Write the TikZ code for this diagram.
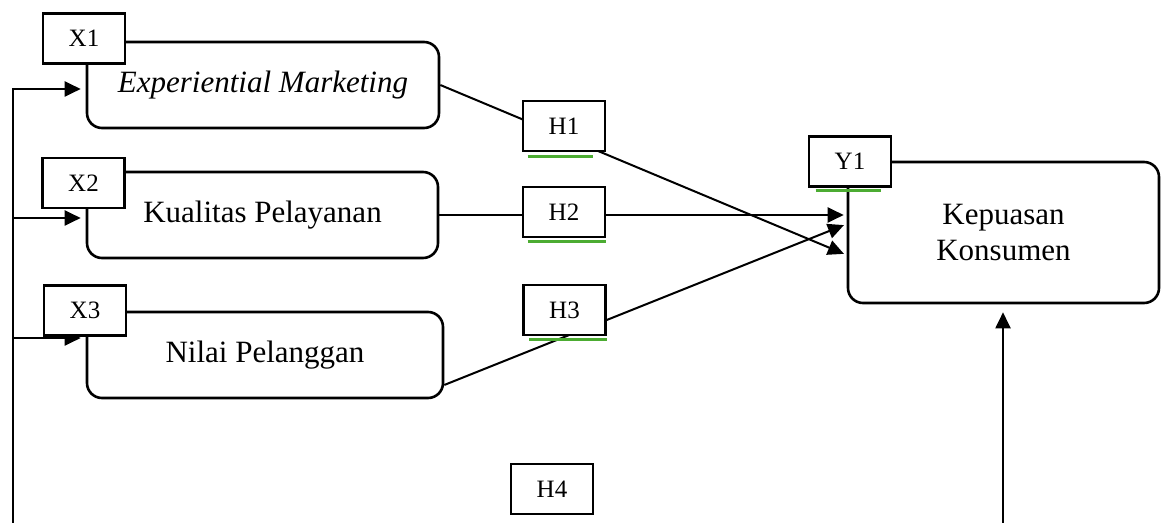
\documentclass[tikz,border=0pt]{standalone}
\usepackage{fontspec}
\setmainfont{Liberation Serif}
\usetikzlibrary{arrows.meta}
\pgfdeclarelayer{background}
\pgfsetlayers{background,main}
\definecolor{okgreen}{RGB}{76,172,50}
\tikzset{
  var/.style = {draw, line width=1.3pt, rounded corners=7.5pt, minimum width=#1,
    minimum height=43pt, inner sep=0pt, font=\fontsize{15.5}{18}\selectfont},
  tag/.style = {draw, line width=1.3pt, fill=white, minimum width=41pt,
    minimum height=25pt, inner sep=0pt, font=\fontsize{12.5}{14}\selectfont},
  link/.style = {line width=1pt},
  arr/.style = {line width=1pt, -{Triangle[length=8pt,width=7.5pt]}},
  ok/.style = {line width=1.6pt, okgreen}
}

\begin{document}
\begin{tikzpicture}[x=0.5pt, y=-0.5pt]
  \useasboundingbox (0,0) rectangle (1161,523);

  % variables
  \node[var=176pt] (em) at (263,85) {\itshape Experiential Marketing};
  \node[var=175.5pt] (kp) at (262.5,215) {Kualitas Pelayanan};
  \node[var=178pt] (nl) at (265,355) {Nilai Pelanggan};
  \node[var=155.5pt, minimum height=70.5pt, align=center] (kep) at (1003.5,232.5)
    {Kepuasan\\Konsumen};

  \node[tag] (x1) at (84,38.5) {X1};
  \node[tag] (x2) at (83.5,183) {X2};
  \node[tag] (x3) at (85,310.5) {X3};
  \node[tag] (y1) at (850,161.5) {Y1};

  % hypotheses
  \node[tag] (h1) at (564,126) {H1};
  \node[tag] (h2) at (564,212) {H2};
  \node[tag] (h3) at (564.5,310) {H3};
  \node[tag] (h4) at (552,489) {H4};

  \draw[ok] ([xshift=3pt,yshift=-2pt]h1.south west) -- ([xshift=-6.5pt,yshift=-2pt]h1.south east);
  \draw[ok] ([xshift=3pt,yshift=-1.5pt]h2.south west) -- ([yshift=-1.5pt]h2.south east);
  \draw[ok] ([xshift=3.5pt,yshift=-1.5pt]h3.south west) -- ([yshift=-1.5pt]h3.south east);
  \draw[ok] ([xshift=4pt,yshift=-1.5pt]y1.south west) -- ([xshift=-5.5pt,yshift=-1.5pt]y1.south east);

  \coordinate (bl) at (13,523);
  \coordinate (br) at (1003,523);

  \begin{pgfonlayer}{background}
    \draw[arr, shorten >=1.5pt] (em.east) -- ([yshift=-11.25pt]kep.west);
    \draw[arr, shorten >=1.5pt] ([yshift=-15pt]nl.east) -- ([yshift=4.25pt]kep.west);
    \draw[arr, shorten >=1.5pt] (kp.east) -- (kp.east -| kep.west);
    \draw[arr, shorten >=2.5pt] (bl) |- ([yshift=-2pt]em.west);
    \draw[arr, shorten >=2.5pt] ([yshift=-1.5pt]bl |- kp.west) -- ([yshift=-1.5pt]kp.west);
    \draw[arr, shorten >=2.5pt] ([yshift=8.5pt]bl |- nl.west) -- ([yshift=8.5pt]nl.west);
    \draw[arr, shorten >=4pt] (br) -- (br |- kep.south);
  \end{pgfonlayer}
\end{tikzpicture}
\end{document}
